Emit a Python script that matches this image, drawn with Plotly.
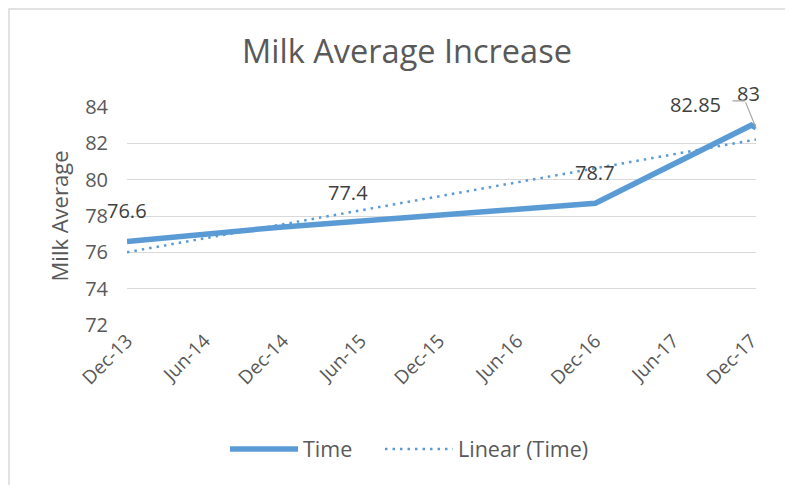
import numpy as np
import pandas as pd
import plotly.graph_objects as go

# ---- data ----
dates = ["2013-12-01", "2014-12-01", "2016-12-01", "2017-12-01", "2017-12-12"]
milk_avg = [76.6, 77.4, 78.7, 83.0, 82.85]
tick_dates = ["2013-12-01", "2014-06-01", "2014-12-01", "2015-06-01", "2015-12-01",
              "2016-06-01", "2016-12-01", "2017-06-01", "2017-12-01"]
tick_labels = ["Dec-13", "Jun-14", "Dec-14", "Jun-15", "Dec-15",
               "Jun-16", "Dec-16", "Jun-17", "Dec-17"]
label_text = ["76.6", "77.4", "78.7", "83", "82.85"]

# linear trend (Excel "Linear (Time)")
d = pd.to_datetime(dates)
days = (d - d[0]).days.values.astype(float)
slope, intercept = np.polyfit(days, milk_avg, 1)
trend_x = [dates[0], dates[-1]]
trend_y = [intercept + slope * days[0], intercept + slope * days[-1]]

BLUE = "#5B9BD5"
GREY = "#595959"
LBL = "#404040"
FONT = "Open Sans"

fig = go.Figure()
fig.add_trace(go.Scatter(x=dates, y=milk_avg, mode="lines", name="Time",
                         line=dict(color=BLUE, width=5.5), legend="legend"))
fig.add_trace(go.Scatter(x=trend_x, y=trend_y, mode="lines", name="Linear (Time)",
                         line=dict(color=BLUE, width=2.5, dash="2.5px,5px"),
                         legend="legend2"))

# data labels (offsets in pixels)
offsets = {0: (0, 31), 1: (65, 34), 2: (0, 31), 4: (-61, 23)}
for i, (xv, yv, t) in enumerate(zip(dates, milk_avg, label_text)):
    if i in offsets:
        xs, ys = offsets[i]
        fig.add_annotation(x=xv, y=yv, text=t, showarrow=False, xshift=xs, yshift=ys,
                           font=dict(family=FONT, size=20, color=LBL))
# "83" label with leader line
fig.add_annotation(x=dates[3], y=milk_avg[3], text=label_text[3], showarrow=False,
                   xshift=-3, yshift=32, font=dict(family=FONT, size=20, color=LBL))
fig.add_annotation(x=dates[4], y=milk_avg[4], text="", showarrow=True, arrowhead=0,
                   arrowwidth=1.2, arrowcolor="#A6A6A6", ax=-11, ay=-27)
fig.add_annotation(x=dates[4], y=milk_avg[4], text="", showarrow=True, arrowhead=0,
                   arrowwidth=1.2, arrowcolor="#A6A6A6", xshift=-11, yshift=27,
                   ax=-14, ay=0)

# page body has an 8px margin, so figure pixel = screen pixel - 8
OFF = 8
W, H = 793, 485
L, T = 127 - OFF, 107 - OFF
pw, ph = 629, 218
R, B = W - L - pw, H - T - ph


def px_x(x):
    return (x - OFF - L) / pw


def px_y(y):
    return (T + ph - (y - OFF)) / ph


# chart outer border
fig.add_shape(type="rect", xref="paper", yref="paper",
              x0=(1 - L) / pw, x1=px_x(W + 20), y0=px_y(H + 20), y1=(T + ph - 1) / ph,
              line=dict(color="#D9D9D9", width=1.5), layer="below")

legend_common = dict(orientation="h", xanchor="left", y=px_y(449), yanchor="middle",
                     font=dict(family=FONT, size=21.5, color=GREY), itemwidth=68,
                     bgcolor="rgba(0,0,0,0)")

fig.update_layout(
    width=W, height=H,
    margin=dict(l=L, r=R, t=T, b=B, autoexpand=False),
    paper_bgcolor="white", plot_bgcolor="white",
    title=dict(text="Milk Average Increase", x=(407 - OFF) / W, xanchor="center",
               y=1 - (52 - OFF) / H, yanchor="middle",
               font=dict(family=FONT, size=32.5, color=GREY)),
    font=dict(family=FONT, color=GREY),
    showlegend=True,
    legend=dict(x=px_x(225), **legend_common),
    legend2=dict(x=px_x(380), **legend_common),
    xaxis=dict(type="date", range=[dates[0], dates[-1]], automargin=False,
               tickvals=tick_dates, ticktext=tick_labels, tickangle=-45,
               showgrid=False, zeroline=False, showline=False,
               ticks="", tickfont=dict(family=FONT, size=19, color=GREY)),
    yaxis=dict(range=[72, 84], dtick=2, tick0=72, automargin=False,
               showgrid=True, gridcolor="#D9D9D9", gridwidth=1,
               zeroline=False, showline=False, ticks="",
               ticklabelstandoff=18,
               tickfont=dict(family=FONT, size=20, color=GREY),
               title=dict(text="Milk Average", standoff=10,
                          font=dict(family=FONT, size=22, color=GREY))),
)

fig.write_html("out.html")
